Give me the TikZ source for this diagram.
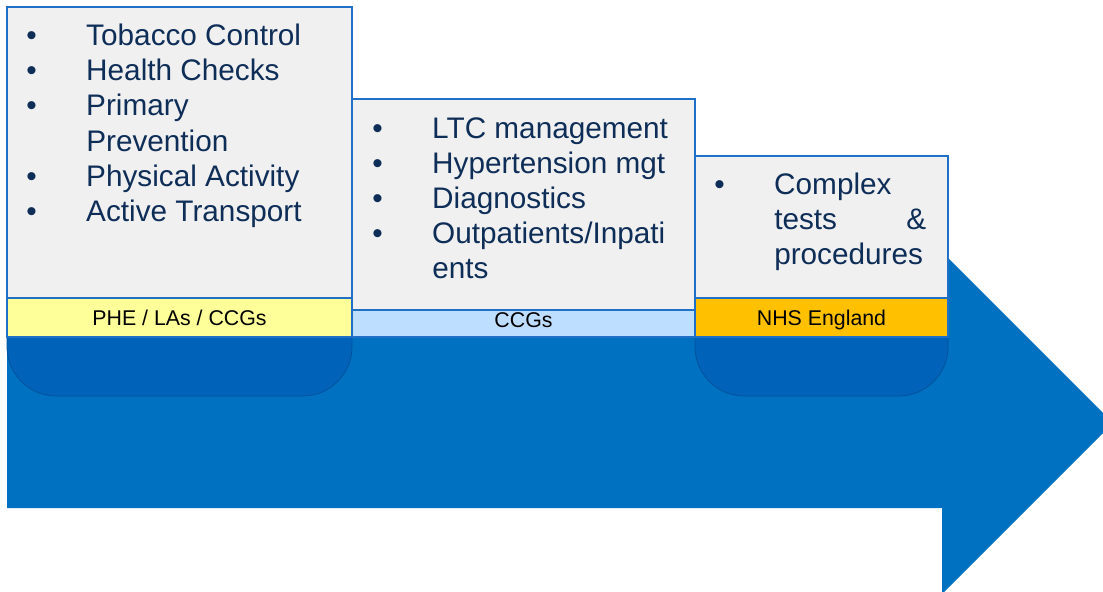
\documentclass[tikz,border=0pt]{standalone}
\usepackage{fontspec}
\setmainfont{Liberation Sans}
\usetikzlibrary{positioning}

\definecolor{arrowblue}{RGB}{0,112,192}
\definecolor{shadeblue}{RGB}{0,98,184}
\definecolor{edgeblue}{RGB}{32,112,200}
\definecolor{boxgray}{RGB}{240,240,240}
\definecolor{textnavy}{RGB}{14,46,88}
\definecolor{bandyellow}{RGB}{255,255,153}
\definecolor{bandblue}{RGB}{190,222,255}
\definecolor{bandorange}{RGB}{255,192,0}

\tikzset{
  panel/.style={draw=edgeblue, line width=1.1pt, fill=boxgray},
  band/.style={draw=edgeblue, line width=1.1pt},
  foot/.style={fill=shadeblue, draw=shadeblue!85!black, line width=0.6pt, rounded corners=37pt},
  items/.style={inner sep=0pt, text=textnavy, font=\fontsize{22.3}{26.25}\selectfont},
  tag/.style={inner sep=0pt, text=black, font=\fontsize{16}{19}\selectfont}
}

\begin{document}
\begin{tikzpicture}[x=0.75pt, y=-0.75pt]
    \useasboundingbox (0,0) rectangle (1103,592);
    % big arrow along the bottom
    \begin{scope}
        \clip (0,0) rectangle (1103,592);
        \fill[arrowblue] (7,338) -- (942,338) -- (942,252) -- (1113,423)
            -- (942,594) -- (942,508) -- (7,508) -- cycle;
    \end{scope}
    % rounded feet under the outer panels
    \path[foot] (7,320) -- (7,396) -- (352,396) -- (352,320);
    \path[foot] (695,320) -- (695,396) -- (948,396) -- (948,320);
    % panels and their bands
    \draw[panel] (7,7) rectangle (352,298);
    \draw[band, fill=bandyellow] (7,298) rectangle (352,337);
    \draw[panel] (352,99) rectangle (695,310);
    \draw[band, fill=bandblue] (352,310) rectangle (695,337);
    \draw[panel] (695,156) rectangle (948,298);
    \draw[band, fill=bandorange] (695,298) rectangle (948,337);
    % bullet lists
    \node[items, anchor=base west] (prevlist) at (26,46) {%
        \begin{tabular}[t]{@{}p{45pt}@{}l@{}}
        \textbullet & Tobacco Control\\
        \textbullet & Health Checks\\
        \textbullet & Primary\\
                    & Prevention\\
        \textbullet & Physical Activity\\
        \textbullet & Active Transport
        \end{tabular}};
    \node[items, anchor=base west] (carelist) at (372,138) {%
        \begin{tabular}[t]{@{}p{45pt}@{}l@{}}
        \textbullet & LTC management\\
        \textbullet & Hypertension mgt\\
        \textbullet & Diagnostics\\
        \textbullet & Outpatients/Inpati\\
                    & ents
        \end{tabular}};
    \node[items, anchor=base west] (speclist) at (714,194) {%
        \begin{tabular}[t]{@{}p{45pt}@{}l@{}}
        \textbullet & Complex\\
                    & \makebox[114pt]{tests\hfill\&}\\
                    & procedures
        \end{tabular}};
    % commissioner labels
    \node[tag, anchor=base] (prevtag) at (179.5,325) {PHE / LAs / CCGs};
    \node[tag, anchor=base] (caretag) at (523.5,327) {CCGs};
    \node[tag, anchor=base] (spectag) at (821.5,325) {NHS England};
\end{tikzpicture}
\end{document}
